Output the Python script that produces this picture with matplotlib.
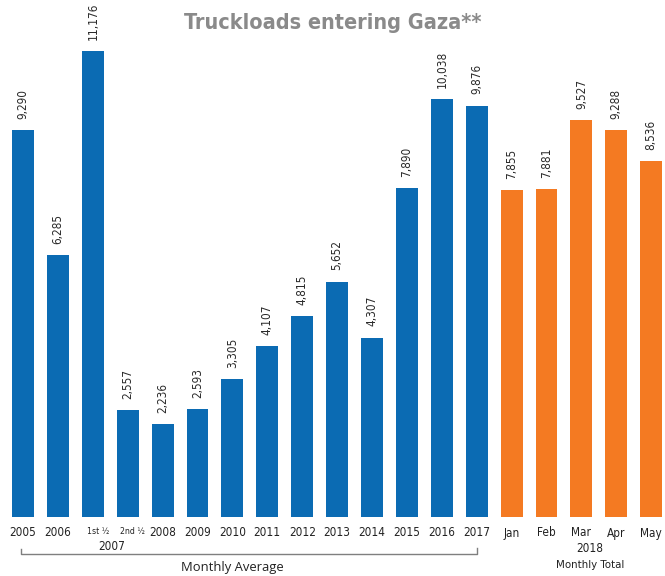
import matplotlib
matplotlib.use('Agg')
import matplotlib.pyplot as plt
from matplotlib import font_manager
from matplotlib.font_manager import FontProperties
from matplotlib.lines import Line2D

# ---- data ----
categories = ['2005', '2006', '1st ½', '2nd ½', '2008', '2009', '2010', '2011',
              '2012', '2013', '2014', '2015', '2016', '2017',
              'Jan', 'Feb', 'Mar', 'Apr', 'May']
values = [9290, 6285, 11176, 2557, 2236, 2593, 3305, 4107,
          4815, 5652, 4307, 7890, 10038, 9876,
          7855, 7881, 9527, 9288, 8536]
groups = ['avg'] * 14 + ['total'] * 5
title = 'Truckloads entering Gaza**'
group_labels = ['Monthly Average', 'Monthly Total']
sub_labels = ['2007', '2018']

colors = {'avg': '#0b6bb3', 'total': '#f47a22'}


def find_condensed(bold):
    best = None
    for f in font_manager.fontManager.ttflist:
        low = (f.name + ' ' + f.fname + ' ' + str(f.stretch)).lower()
        if not any(k in low for k in ('condensed', 'narrow')):
            continue
        if 'semi' in low or 'extra' in low or 'ultra' in low:
            continue
        if f.style != 'normal':
            continue
        w = f.weight if isinstance(f.weight, int) else 400
        score = abs(w - (700 if bold else 400))
        if best is None or score < best[0]:
            best = (score, f)
    return best[1] if best else None


fr = find_condensed(False)
fb = find_condensed(True)
if fr is not None:
    reg = FontProperties(fname=fr.fname)
    boldp = FontProperties(fname=fb.fname)
else:
    reg = FontProperties(family='DejaVu Sans')
    boldp = FontProperties(family='DejaVu Sans', weight='bold')

W, H = 665, 576
fig = plt.figure(figsize=(W / 100, H / 100), dpi=100)
base_px = 517
top_px = 17
ax = fig.add_axes([0, (H - base_px) / H, 1, (base_px - top_px) / H])
step = 34.9
c0 = 23
ax.set_xlim(-c0 / step, (W - c0) / step)
ax.set_ylim(0, 12000)
for s in ax.spines.values():
    s.set_visible(False)
ax.set_xticks([])
ax.set_yticks([])

x = list(range(len(categories)))
ax.bar(x, values, width=0.63, color=[colors[g] for g in groups])

for xi, v in zip(x, values):
    ax.annotate(f'{v:,}', (xi, v), xytext=(0, 8), textcoords='offset points',
                rotation=90, ha='center', va='bottom', fontsize=8.5,
                color='#2a2a2a', fontproperties=reg)

tr = ax.get_xaxis_transform()
ppx = base_px - top_px


def ypos(py):
    return -(py - base_px) / ppx


def ctext(xv, py, s, size):
    ax.text(xv, ypos(py), s, transform=tr, ha='center', va='center',
            fontproperties=reg, fontsize=size, color='#222222')


for xi, lab in zip(x, categories):
    if '½' in lab:
        ctext(xi + 0.15, 531, lab, 6.2)
    else:
        ctext(xi, 533, lab, 8.5)

ctext(2.55, 546, sub_labels[0], 8.5)
ctext(16.25, 549, sub_labels[1], 8.5)
ctext(16.25, 565, group_labels[1], 8.2)
ax.text(6.0, ypos(567), group_labels[0], transform=tr, ha='center', va='center',
        fontsize=9.4, family='Open Sans', color='#222222')

# bracket
bx0, bx1 = -0.06, 13.0
ax.add_line(Line2D([bx0, bx0, bx1, bx1], [ypos(549), ypos(554), ypos(554), ypos(548)],
                   transform=tr, color='#7f7f7f', lw=1, clip_on=False))

fig.text(333 / W, 1 - 29 / H, title, ha='center', va='baseline',
         fontproperties=boldp, fontsize=15.5, color='#8a8a8a')

fig.savefig('out.png', dpi=100)
